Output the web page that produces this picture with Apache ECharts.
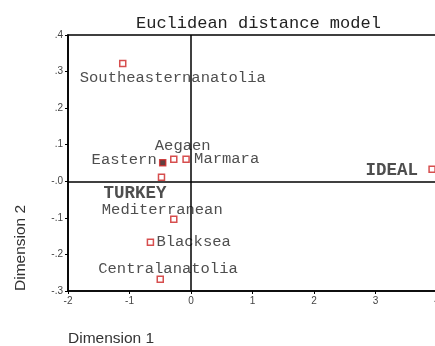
<!DOCTYPE html>
<html>
<head>
<meta charset="utf-8">
<script src="https://cdn.jsdelivr.net/npm/echarts@6/dist/echarts.min.js"></script>
<style>
    html, body { margin: 0; padding: 0; background: #fff; }
    #chart { width: 435px; height: 346px; }
</style>
</head>
<body>
<div id="chart"></div>
<script>
// MDS configuration
var names = ["Southeasternanatolia", "Aegaen", "Eastern", "Marmara", "TURKEY",
    "Mediterranean", "Blacksea", "Centralanatolia", "IDEAL"];
var dim1 = [-1.11, -0.28, -0.46, -0.08, -0.48, -0.28, -0.66, -0.50, 3.92];
var dim2 = [0.322, 0.060, 0.051, 0.060, 0.011, -0.104, -0.167, -0.268, 0.033];
var xTicks = [-2, -1, 0, 1, 2, 3, 4];
var yTicks = [-0.3, -0.2, -0.1, 0, 0.1, 0.2, 0.3, 0.4];

// label placement, relative to the marker centre
var labelStyle = {
    "Southeasternanatolia": { offset: [-43, 14], align: "left" },
    "Aegaen": { offset: [-19, -13], align: "left" },
    "Eastern": { offset: [-6, -3], align: "right" },
    "Marmara": { offset: [8, 0], align: "left" },
    "TURKEY": { offset: [-58, 16], align: "left", bold: true },
    "Mediterranean": { offset: [-72, -9], align: "left" },
    "Blacksea": { offset: [6, 0], align: "left" },
    "Centralanatolia": { offset: [-62, -10], align: "left" },
    "IDEAL": { offset: [-14, 1], align: "right", bold: true }
};

var monoFont = "'Nimbus Mono PS', 'Courier New', Courier, 'Liberation Mono', monospace";

function yLabel(v) {
    var d = Math.round(Math.abs(v) * 10);
    return (v > 0 ? "." : "-.") + d;
}

var points = [];
for (var i = 0; i < names.length; ++i) {
    var st = labelStyle[names[i]];
    var p = {
        name: names[i],
        value: [dim1[i], dim2[i]],
        label: {
            show: true,
            formatter: names[i],
            position: "inside",
            align: st.align,
            verticalAlign: "middle",
            offset: st.offset,
            fontFamily: monoFont,
            fontSize: st.bold ? 17.5 : 15.5,
            fontWeight: st.bold ? "bold" : "normal",
            color: "#222"
        }
    };
    if (names[i] === "Eastern") {
        p.itemStyle = { color: "#3a1010" };
    }
    points.push(p);
}

var axisText = { fontFamily: "Liberation Sans", fontSize: 10, color: "#444" };

var option = {
    animation: false,
    title: {
        text: "Euclidean distance model",
        left: 131,
        top: 10,
        textStyle: { fontFamily: monoFont, fontSize: 17, fontWeight: "normal", color: "#222" }
    },
    grid: {
        left: 68, top: 35, width: 369, height: 256,
        outerBoundsMode: "none",
        containLabel: false,
        show: true, borderColor: "#000", borderWidth: 1.6
    },
    xAxis: {
        type: "value",
        min: xTicks[0], max: xTicks[xTicks.length - 1], interval: 1,
        axisLine: { onZero: false, lineStyle: { color: "#000", width: 1.6 } },
        axisTick: { show: true, length: 3, lineStyle: { color: "#000" } },
        axisLabel: Object.assign({ margin: 5, showMaxLabel: true }, axisText),
        splitLine: { show: false }
    },
    yAxis: {
        type: "value",
        min: yTicks[0], max: yTicks[yTicks.length - 1], interval: 0.1,
        axisLine: { onZero: false, lineStyle: { color: "#000", width: 1.6 } },
        axisTick: { show: true, length: 3, lineStyle: { color: "#000" } },
        axisLabel: Object.assign({ margin: 5, formatter: yLabel }, axisText),
        splitLine: { show: false }
    },
    graphic: [
        {
            type: "text", left: 68, top: 331,
            style: { text: "Dimension 1", fontFamily: "Liberation Sans", fontSize: 15.5, fill: "#333" }
        },
        {
            type: "text", x: 13, y: 291, rotation: Math.PI / 2,
            style: { text: "Dimension 2", fontFamily: "Liberation Sans", fontSize: 15.5, fill: "#333" }
        }
    ],
    series: [{
        type: "scatter",
        symbol: "rect",
        symbolSize: 6,
        itemStyle: { color: "#fff", borderColor: "#cc2222", borderWidth: 1.5 },
        data: points,
        markLine: {
            silent: true,
            symbol: "none",
            label: { show: false },
            lineStyle: { color: "#000", type: "solid", width: 1.5 },
            data: [{ xAxis: 0 }, { yAxis: 0 }]
        }
    }]
};

echarts.init(document.getElementById("chart")).setOption(option);
</script>
</body>
</html>
